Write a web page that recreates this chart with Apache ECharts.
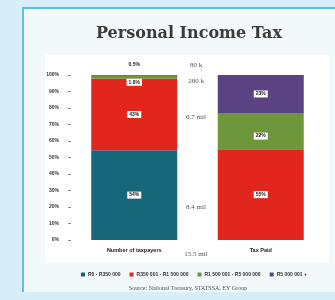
<!DOCTYPE html>
<html>
<head>
<meta charset="utf-8">
<script src="https://cdn.jsdelivr.net/npm/echarts@6/dist/echarts.min.js"></script>
<style>
  html, body { margin: 0; padding: 0; background: #d7eef8; }
  #main { width: 335px; height: 300px; }
</style>
</head>
<body>
<div id="main"></div>
<script>
// data
var categories = ['Number of taxpayers', 'Tax Paid'];
var bands = ['R0 - R350 000', 'R350 001 - R1 500 000', 'R1 500 001 - R5 000 000', 'R5 000 001 +'];
var colors = ['#17677a', '#e1271d', '#6e963a', '#5b4282'];
var band1 = [54.4, 0];     // R0 - R350 000
var band2 = [43.3, 55];    // R350 001 - R1 500 000
var band3 = [1.8, 22];     // R1 500 001 - R5 000 000
var band4 = [0.5, 23];     // R5 000 001 +
var yTicks = [0, 10, 20, 30, 40, 50, 60, 70, 80, 90, 100];
var counts = ['80 k', '280 k', '6.7 mil', '8.4 mil', '15.5 mil'];

var myChart = echarts.init(document.getElementById('main'));

function pctLabel(p) {
  return (p.value < 10 ? p.value.toFixed(1) : Math.round(p.value)) + '%';
}

var boxLabel = {
  show: true,
  formatter: pctLabel,
  fontSize: 5,
  fontWeight: 'bold',
  color: '#222',
  backgroundColor: '#fff',
  padding: [1, 2]
};

// zero-height segments get no label
function toItems(d) {
  return d.map(function (v) {
    return v ? v : { value: v, label: { show: false } };
  });
}

var seriesData = [band1, band2, band3, band4];
var series = seriesData.map(function (d, i) {
  var lbl = Object.assign({}, boxLabel);
  if (i === 2) {
    lbl.position = 'inside';
    lbl.offset = [0, 5];
  }
  return {
    name: bands[i],
    type: 'bar',
    stack: 'total',
    barWidth: 86,
    itemStyle: { color: colors[i] },
    label: lbl,
    data: toItems(d)
  };
});
// 0.5% sits above the bar, no box
series[3].label = {
  show: true,
  position: 'top',
  distance: 8,
  fontSize: 5,
  fontWeight: 'bold',
  color: '#222',
  formatter: pctLabel
};
series[3].data = [band4[0], { value: band4[1], label: Object.assign({}, boxLabel, { position: 'inside' }) }];

var countY = [65, 81, 117, 207, 254];
var graphics = [
  { type: 'rect', z: -10, shape: { x: 23, y: 8, width: 330, height: 284 }, style: { fill: '#f3f8fb' } },
  { type: 'line', z: -9, shape: { x1: 23, y1: 8, x2: 23, y2: 292 }, style: { stroke: '#5cc2dc', lineWidth: 2 } },
  { type: 'line', z: -9, shape: { x1: 22, y1: 8, x2: 335, y2: 8 }, style: { stroke: '#5cc2dc', lineWidth: 2 } },
  { type: 'rect', z: -8, shape: { x: 45, y: 55, width: 284, height: 207 }, style: { fill: '#ffffff' } },
  {
    type: 'text', x: 189, y: 34,
    style: {
      text: 'Personal Income Tax', fontFamily: 'DejaVu Serif', fontWeight: 'bold',
      fontSize: 16, fill: '#3b3b3b', textAlign: 'center', textVerticalAlign: 'middle'
    }
  },
  {
    type: 'text', x: 188, y: 288,
    style: {
      text: 'Source: National Treasury, STATSSA, EY Group', fontFamily: 'Liberation Serif',
      fontSize: 6, fill: '#555', textAlign: 'center', textVerticalAlign: 'middle'
    }
  }
];
counts.forEach(function (t, i) {
  graphics.push({
    type: 'text', x: 196, y: countY[i],
    style: {
      text: t, fontFamily: 'Liberation Serif', fontSize: 7, fill: '#555',
      textAlign: 'center', textVerticalAlign: 'middle'
    }
  });
});

var option = {
  animation: false,
  textStyle: { fontFamily: 'Liberation Sans' },
  graphic: graphics,
  grid: { left: 71, top: 75, width: 253, height: 165 },
  legend: {
    data: bands,
    left: 76,
    top: 267,
    itemWidth: 4,
    itemHeight: 4,
    itemGap: 9,
    icon: 'rect',
    textStyle: { fontSize: 5, color: '#333', fontWeight: 'bold', padding: [0, 0, 0, -2] }
  },
  xAxis: {
    type: 'category',
    data: categories,
    axisLine: { show: false },
    axisTick: { show: false },
    axisLabel: { fontSize: 5.5, fontWeight: 'bold', color: '#222', margin: 7 }
  },
  yAxis: {
    type: 'value',
    min: yTicks[0],
    max: yTicks[yTicks.length - 1],
    interval: 10,
    axisLine: { show: false },
    axisTick: { show: true, length: 3, lineStyle: { color: '#888' } },
    splitLine: { show: false },
    axisLabel: { fontSize: 5, fontWeight: 'bold', color: '#333', margin: 12, formatter: '{value}%' }
  },
  series: series
};

myChart.setOption(option);
</script>
</body>
</html>
